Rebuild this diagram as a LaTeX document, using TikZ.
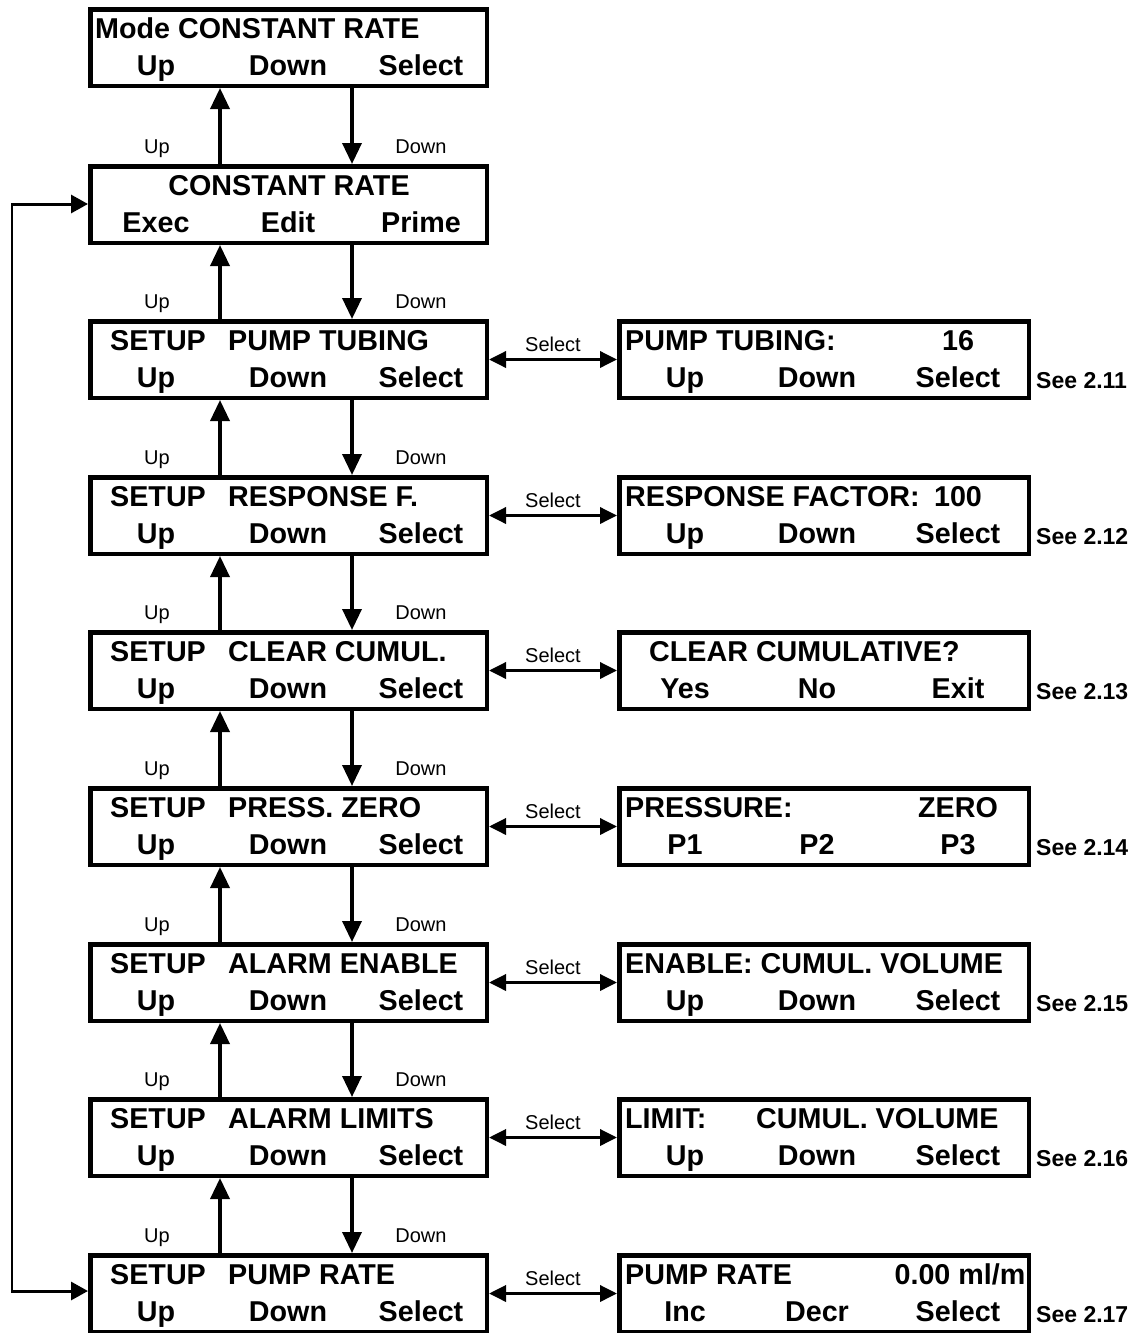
\documentclass[tikz,border=0pt]{standalone}
\usepackage{fontspec}
\setmainfont{Liberation Sans}
\usetikzlibrary{arrows.meta}
\tikzset{
  box/.style={draw, line width=4.5pt, minimum height=76.5pt, inner sep=0pt},
  lbox/.style={box, minimum width=396.5pt},
  rbox/.style={box, minimum width=409.5pt},
  bt/.style={font=\fontsize{28.7}{30}\selectfont\bfseries, inner sep=0pt, anchor=base},
  btl/.style={bt, anchor=base west},
  sm/.style={font=\fontsize{20}{22}\selectfont, inner sep=0pt, anchor=base},
  see/.style={font=\fontsize{23}{25}\selectfont\bfseries, inner sep=0pt, anchor=base west},
  varr/.style={line width=3.5pt, -{Triangle[length=21pt,width=19pt]}},
  harr/.style={line width=3.5pt, {Triangle[length=17pt,width=16pt]}-{Triangle[length=17pt,width=16pt]}},
  larr/.style={line width=3pt, -{Triangle[length=17pt,width=18pt]}},
  lline/.style={line width=2pt}
}
\begin{document}
\begin{tikzpicture}[x=1pt,y=-1pt]
\useasboundingbox (0,0) rectangle (1136,1333);
% left boxes
\foreach \T [count=\i] in {7,164,319,475,630,786,942,1097,1253}{
  \node[lbox] (L\i) at (288.5,{\T+40.5}) {};
}
% right boxes
\foreach \T [count=\i from 3] in {319,475,630,786,942,1097,1253}{
  \node[rbox] (R\i) at (824,{\T+40.5}) {};
  \draw[harr] (L\i.east) -- (R\i.west);
  \node[sm] (S\i) at (553,{\T+32}) {Select};
}
\foreach \n/\T in {3/319,4/475,5/630,6/786,7/942,8/1097,9/1253}{
  \node[see] (E\n) at (1036,{\T+69}) {See 2.\the\numexpr\n+8\relax};
}
% vertical arrows
\foreach \i/\T in {1/164,2/319,3/475,4/630,5/786,6/942,7/1097,8/1253}{
  \pgfmathtruncatemacro{\j}{\i+1}
  \draw[varr] ([xshift=-68.5pt]L\j.north) -- ([xshift=-68.5pt]L\i.south);
  \draw[varr] ([xshift=63.5pt]L\i.south) -- ([xshift=63.5pt]L\j.north);
  \node[sm] (U\j) at (157,{\T-11}) {Up};
  \node[sm] (D\j) at (421,{\T-11}) {Down};
}
% loop
\coordinate (c1) at (12,204);
\coordinate (c2) at (12,1291);
\draw[lline] (c1) -- (c2);
\draw[larr] ([xshift=-1pt]c1) -- (L2.west |- c1);
\draw[larr] ([xshift=-1pt]c2) -- (L9.west |- c2);
% ---- texts in left boxes
\node[btl] (t1a) at (95,38) {Mode CONSTANT RATE};
\node[bt] (t2a) at (289,195) {CONSTANT RATE};
\node[bt] (t2b) at (156,232) {Exec};
\node[bt] (t2c) at (288,232) {Edit};
\node[bt] (t2d) at (421,232) {Prime};
\foreach \i/\T/\txt in {3/319/PUMP TUBING,4/475/RESPONSE F.,5/630/CLEAR CUMUL.,6/786/PRESS. ZERO,7/942/ALARM ENABLE,8/1097/ALARM LIMITS,9/1253/PUMP RATE}{
  \node[btl] (s\i) at (110,{\T+31}) {SETUP};
  \node[btl] (w\i) at (228,{\T+31}) {\txt};
}
\foreach \i/\T in {1/7,3/319,4/475,5/630,6/786,7/942,8/1097,9/1253}{
  \node[bt] (u\i) at (156,{\T+68}) {Up};
  \node[bt] (d\i) at (288,{\T+68}) {Down};
  \node[bt] (e\i) at (421,{\T+68}) {Select};
}
% ---- texts in right boxes
\node[btl] (r3a) at (625,350) {PUMP TUBING:};
\node[bt] (r3b) at (958,350) {16};
\node[btl] (r4a) at (625,506) {RESPONSE FACTOR:};
\node[bt] (r4b) at (958,506) {100};
\node[btl] (r5a) at (649,661) {CLEAR CUMULATIVE?};
\node[btl] (r6a) at (625,817) {PRESSURE:};
\node[bt] (r6b) at (958,817) {ZERO};
\node[btl] (r7a) at (625,973) {ENABLE: CUMUL. VOLUME};
\node[btl] (r8a) at (625,1128) {LIMIT:};
\node[btl] (r8b) at (756,1128) {CUMUL. VOLUME};
\node[btl] (r9a) at (625,1284) {PUMP RATE};
\node[bt] (r9b) at (960,1284) {0.00 ml/m};
\foreach \i/\T/\a/\b/\c in {3/319/Up/Down/Select,4/475/Up/Down/Select,5/630/Yes/No/Exit,6/786/P1/P2/P3,7/942/Up/Down/Select,8/1097/Up/Down/Select,9/1253/Inc/Decr/Select}{
  \node[bt] (ra\i) at (685,{\T+68}) {\a};
  \node[bt] (rb\i) at (817,{\T+68}) {\b};
  \node[bt] (rc\i) at (958,{\T+68}) {\c};
}
\end{tikzpicture}
\end{document}
